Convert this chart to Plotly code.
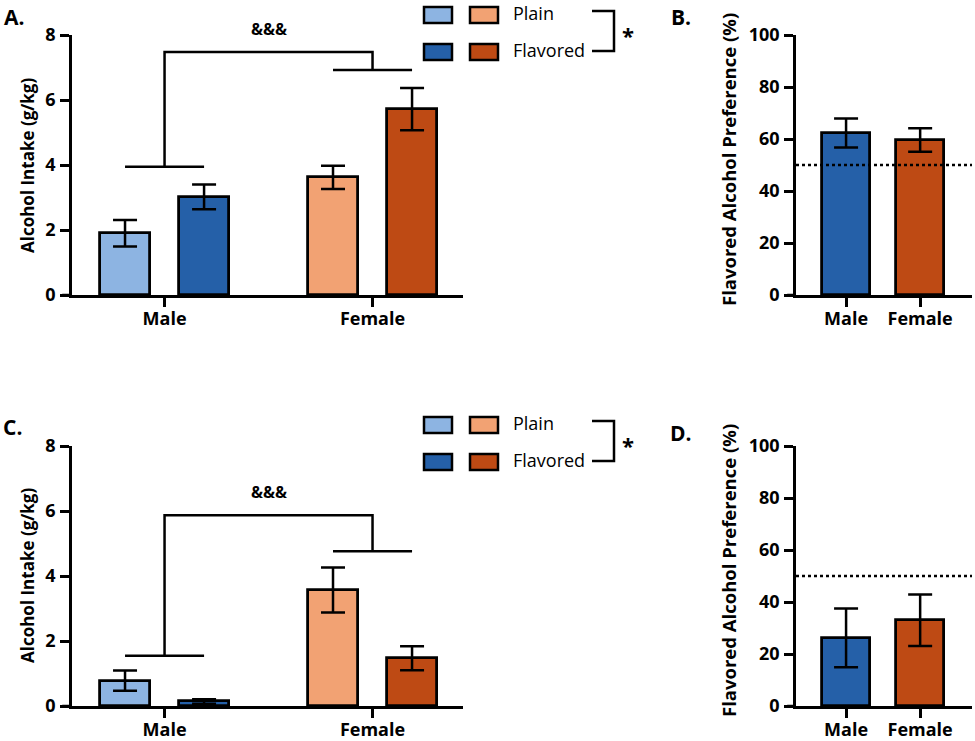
import plotly.graph_objects as go

# values
groups = ["Male", "Female"]
intake_A_plain = [1.90, 3.62]
intake_A_plain_err = [0.41, 0.36]
intake_A_flav = [3.02, 5.72]
intake_A_flav_err = [0.38, 0.65]
pref_B = [62.3, 59.6]
pref_B_err = [5.6, 4.5]

intake_C_plain = [0.78, 3.57]
intake_C_plain_err = [0.31, 0.69]
intake_C_flav = [0.14, 1.47]
intake_C_flav_err = [0.07, 0.37]
pref_D = [26.2, 33.0]
pref_D_err = [11.3, 9.9]

# bracket heights: male, female, top
brackets_A = [3.95, 6.92, 7.48]
brackets_C = [1.55, 4.76, 5.87]
chance = 50

blue_light, blue_dark = "#8DB4E2", "#2560A8"
orange_light, orange_dark = "#F2A273", "#BE4A14"
FONT = "Open Sans"
W, H = 975, 741
OFF = 0.19   # half distance between bars inside a group
BW = 0.24

def px(x):
    return x / W

def py(y):
    return 1 - y / H

fig = go.Figure()

def intake_panel(xa, ya, plain, plain_err, flav, flav_err):
    xs = [0, 1]
    fig.add_trace(go.Bar(x=xs, y=plain, offset=-OFF - BW / 2, width=BW,
                         marker=dict(color=[blue_light, orange_light], line=dict(color="black", width=2.8)),
                         error_y=dict(type="data", array=plain_err, color="black", thickness=2.5, width=12),
                         xaxis=xa, yaxis=ya, showlegend=False))
    fig.add_trace(go.Bar(x=xs, y=flav, offset=OFF - BW / 2, width=BW,
                         marker=dict(color=[blue_dark, orange_dark], line=dict(color="black", width=2.8)),
                         error_y=dict(type="data", array=flav_err, color="black", thickness=2.5, width=12),
                         xaxis=xa, yaxis=ya, showlegend=False))

def pref_panel(xa, ya, vals, errs):
    fig.add_trace(go.Bar(x=[0, 1], y=vals, width=0.65,
                         marker=dict(color=[blue_dark, orange_dark], line=dict(color="black", width=2.8)),
                         error_y=dict(type="data", array=errs, color="black", thickness=2.5, width=12),
                         xaxis=xa, yaxis=ya, showlegend=False))

intake_panel("x", "y", intake_A_plain, intake_A_plain_err, intake_A_flav, intake_A_flav_err)
pref_panel("x2", "y2", pref_B, pref_B_err)
intake_panel("x3", "y3", intake_C_plain, intake_C_plain_err, intake_C_flav, intake_C_flav_err)
pref_panel("x4", "y4", pref_D, pref_D_err)

tickfont = dict(family=FONT, size=18, color="black", weight="bold")
common_x = dict(showline=True, linecolor="black", linewidth=2.5, ticks="outside", ticklen=9,
                tickwidth=2.5, tickcolor="black", tickvals=[0, 1], ticktext=groups,
                tickfont=tickfont, showgrid=False, zeroline=False, fixedrange=True,
                automargin=False, ticklabelstandoff=-3)
common_y = dict(showline=True, linecolor="black", linewidth=2.5, ticks="outside", ticklen=9,
                tickwidth=2.5, tickcolor="black", tickfont=tickfont, showgrid=False,
                zeroline=False, ticklabelstandoff=1, automargin=False)

ab = [py(295), py(35)]
cd = [py(706), py(446)]
ac_x = [px(72), px(463)]
bd_x = [px(796), px(972)]
rng_intake = [-0.445, 1.435]
rng_pref = [-0.676, 1.70]

fig.update_layout(
    width=W, height=H, margin=dict(l=0, r=0, t=0, b=0, pad=0),
    plot_bgcolor="white", paper_bgcolor="white", bargap=0,
    font=dict(family=FONT, color="black"),
    xaxis=dict(domain=ac_x, range=rng_intake, anchor="y", **common_x),
    yaxis=dict(domain=ab, range=[0, 8], dtick=2, anchor="x", **common_y),
    xaxis2=dict(domain=bd_x, range=rng_pref, anchor="y2", **common_x),
    yaxis2=dict(domain=ab, range=[0, 100], dtick=20, anchor="x2", **common_y),
    xaxis3=dict(domain=ac_x, range=rng_intake, anchor="y3", **common_x),
    yaxis3=dict(domain=cd, range=[0, 8], dtick=2, anchor="x3", **common_y),
    xaxis4=dict(domain=bd_x, range=rng_pref, anchor="y4", **common_x),
    yaxis4=dict(domain=cd, range=[0, 100], dtick=20, anchor="x4", **common_y),
)

line = dict(color="black", width=2.5)

# x-axis lines poke out left of the y-axis
for xa, ya in [("x", "y"), ("x2", "y2"), ("x3", "y3"), ("x4", "y4")]:
    fig.add_shape(type="line", xref=xa + " domain", yref=ya + " domain",
                  x0=-0.025 if xa in ("x", "x3") else -0.05, x1=0, y0=0, y1=0, line=line)

# significance brackets
for xa, ya, lv in [("x", "y", brackets_A), ("x3", "y3", brackets_C)]:
    for g in (0, 1):
        fig.add_shape(type="line", xref=xa, yref=ya, x0=g - OFF, x1=g + OFF, y0=lv[g], y1=lv[g], line=line)
    fig.add_shape(type="path", xref=xa, yref=ya,
                  path=f"M 0,{lv[0]} L 0,{lv[2]} L 1,{lv[2]} L 1,{lv[1]}", line=line)
    fig.add_annotation(xref=xa, yref=ya, x=0.5, y=lv[2] + 0.3, text="&&&", showarrow=False,
                       xanchor="center", yanchor="bottom",
                       font=dict(family=FONT, size=16, weight="bold"))

# 50% reference lines
for xa, ya in [("x2", "y2"), ("x4", "y4")]:
    fig.add_shape(type="line", xref=xa + " domain", yref=ya, x0=0, x1=1, y0=chance, y1=chance,
                  line=dict(color="black", width=2.5, dash="dot"))

# custom 2x2 legends
for top in (7, 417):
    rows = [(top, top + 16), (top + 37, top + 53)]
    for r, (c1, c2) in zip(rows, [(blue_light, orange_light), (blue_dark, orange_dark)]):
        for (x0, x1), c in zip([(424, 452), (470, 498)], [c1, c2]):
            fig.add_shape(type="rect", xref="paper", yref="paper", x0=px(x0), x1=px(x1),
                          y0=py(r[1]), y1=py(r[0]), fillcolor=c, line=dict(color="black", width=2.5))
    for label, r in zip(["Plain", "Flavored"], rows):
        fig.add_annotation(xref="paper", yref="paper", x=px(511), y=py((r[0] + r[1]) / 2 - 2),
                           text=label, showarrow=False, xanchor="left", yanchor="middle",
                           font=dict(family=FONT, size=18, color="black"))
    yb0, yb1 = top + 4, top + 44
    fig.add_shape(type="path", xref="paper", yref="paper",
                  path=f"M {px(592)},{py(yb0)} L {px(614)},{py(yb0)} L {px(614)},{py(yb1)} L {px(592)},{py(yb1)}",
                  line=line)
    fig.add_annotation(xref="paper", yref="paper", x=px(628), y=py(top + 28), text="*", showarrow=False,
                       xanchor="center", yanchor="middle",
                       font=dict(family=FONT, size=22, weight="bold", color="black"))

# panel letters and axis titles
for letter, x, y in [("A.", 14, 17), ("B.", 681, 17), ("C.", 12, 427), ("D.", 681, 433)]:
    fig.add_annotation(xref="paper", yref="paper", x=px(x), y=py(y), text=letter, showarrow=False,
                       xanchor="center", yanchor="middle",
                       font=dict(family=FONT, size=21, weight="bold", color="black"))
for text, x, y, s in [("Alcohol Intake (g/kg)", 27, 166, 17), ("Flavored Alcohol Preference (%)", 728, 160, 18.5),
                      ("Alcohol Intake (g/kg)", 27, 576, 17), ("Flavored Alcohol Preference (%)", 728, 571, 18.5)]:
    fig.add_annotation(xref="paper", yref="paper", x=px(x), y=py(y), text=text, showarrow=False,
                       xanchor="center", yanchor="middle", textangle=-90,
                       font=dict(family=FONT, size=s, weight="bold", color="black"))

fig.write_html("out.html", config={"displayModeBar": False},
               post_script="document.body.style.margin='0';")
